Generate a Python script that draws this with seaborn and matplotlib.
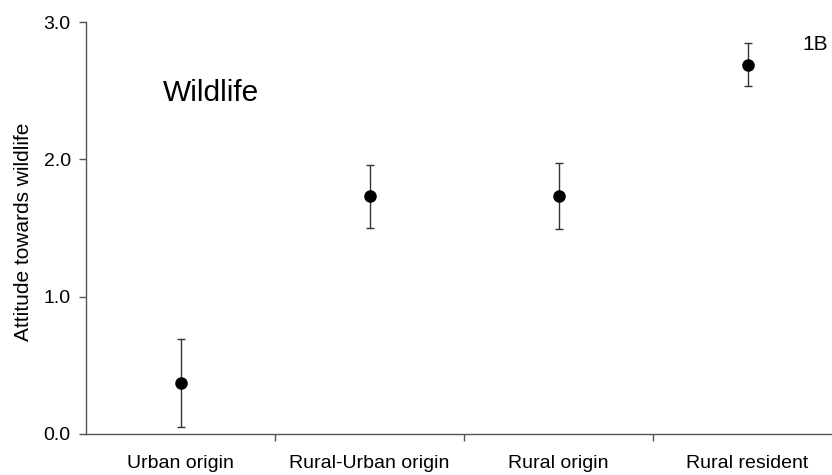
import matplotlib
matplotlib.use("Agg")
import matplotlib.pyplot as plt
import seaborn as sns
import pandas as pd
from matplotlib.ticker import FixedLocator

# data
groups = ["Urban origin", "Rural-Urban origin", "Rural origin", "Rural resident"]
means = [0.37, 1.73, 1.73, 2.69]
errors = [0.32, 0.23, 0.24, 0.155]

df = pd.DataFrame({"group": groups, "attitude": means})

sns.set_theme(style="white")
plt.rcParams["font.family"] = ["Liberation Sans", "DejaVu Sans"]
plt.rcParams["text.color"] = "black"

fig = plt.figure(figsize=(8.32, 4.75), dpi=100)
ax = fig.add_axes([86 / 832, 41 / 475, 756 / 832, 412 / 475])

sns.pointplot(data=df, x="group", y="attitude", linestyle="none", errorbar=None,
              color="black", markers="o", markersize=7, ax=ax, zorder=3)
ax.errorbar(range(len(groups)), means, yerr=errors, fmt="none",
            ecolor="#333333", elinewidth=1, capsize=3, capthick=1, zorder=2)

ax.set_xlim(-0.5, 3.5)
ax.set_ylim(0, 3.0)
ax.set_yticks([0, 1, 2, 3])
ax.set_yticklabels(["0.0", "1.0", "2.0", "3.0"])

# category boundaries get the tick marks, labels sit at the centres
ax.xaxis.set_minor_locator(FixedLocator([0.5, 1.5, 2.5]))
ax.tick_params(axis="x", which="major", length=0, pad=15, labelsize=14, labelcolor="black")
ax.tick_params(axis="x", which="minor", bottom=True, length=5, width=1, color="#555555")
ax.tick_params(axis="y", left=True, length=5, width=1, color="#555555",
               pad=6, labelsize=14, labelcolor="black")

ax.set_xlabel("")
ax.set_ylabel("Attitude towards wildlife", fontsize=15, color="black")
ax.yaxis.set_label_coords(-0.07, 0.49)

sns.despine(ax=ax)
for side in ["left", "bottom"]:
    ax.spines[side].set_color("#555555")
    ax.spines[side].set_linewidth(1)

ax.text(0.16, 2.48, "Wildlife", fontsize=21.5, ha="center", va="center", color="black")
fig.text(815 / 832, 1 - 44 / 475, "1B", fontsize=15, ha="center", va="center", color="black")

fig.savefig("out.png", dpi=100)
